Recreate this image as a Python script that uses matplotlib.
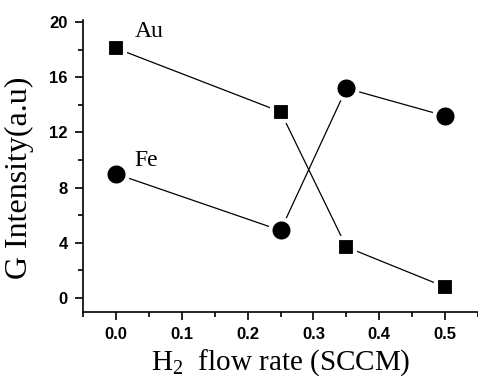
import matplotlib
matplotlib.use("Agg")
import matplotlib.pyplot as plt
from matplotlib.ticker import MultipleLocator

plt.rcParams['mathtext.fontset'] = 'custom'
plt.rcParams['mathtext.rm'] = 'Liberation Serif'
plt.rcParams['mathtext.it'] = 'Liberation Serif:italic'
plt.rcParams['mathtext.bf'] = 'Liberation Serif:bold'

flow = [0.0, 0.25, 0.35, 0.5]
au = [18.1, 13.5, 3.7, 0.8]
fe = [9.0, 4.9, 15.2, 13.2]
xticks = [0.0, 0.1, 0.2, 0.3, 0.4, 0.5]
yticks = [0, 4, 8, 12, 16, 20]

fig = plt.figure(figsize=(4.78, 3.85), dpi=100)
ax = fig.add_axes([0.174, 0.19, 0.826, 0.758])

ax.plot(flow, au, color='black', lw=0.9, marker='s', ms=13.5, mfc='black',
        mec='white', mew=3, zorder=3)
ax.plot(flow, fe, color='black', lw=0.9, marker='o', ms=16, mfc='black',
        mec='white', mew=3, zorder=3)

ax.set_xlim(-0.05, 0.55)
ax.set_ylim(-1, 20.15)
ax.set_xticks(xticks)
ax.set_yticks(yticks)
ax.set_xticklabels([f"{v:.1f}" for v in xticks])
ax.set_yticklabels([str(v) for v in yticks])
ax.xaxis.set_minor_locator(MultipleLocator(0.05))
ax.yaxis.set_minor_locator(MultipleLocator(2))
for s in ['top', 'right']:
    ax.spines[s].set_visible(False)
for s in ['left', 'bottom']:
    ax.spines[s].set_linewidth(1.2)
ax.tick_params(which='major', direction='out', length=6, width=1.2, pad=5)
ax.tick_params(which='minor', direction='out', length=3.5, width=1.2)
for lab in ax.get_xticklabels() + ax.get_yticklabels():
    lab.set_fontfamily('Liberation Sans')
    lab.set_fontweight('bold')
    lab.set_fontsize(12)

ax.set_xlabel("H$_2$  flow rate (SCCM)", fontfamily='Liberation Serif', fontsize=21, labelpad=4)
ax.set_ylabel("G Intensity(a.u)", fontfamily='Liberation Serif', fontsize=23, labelpad=4)
ax.yaxis.set_label_coords(-0.125, 0.46)

ax.text(0.028, 18.9, "Au", fontfamily='Liberation Serif', fontsize=17)
ax.text(0.028, 9.6, "Fe", fontfamily='Liberation Serif', fontsize=17)

fig.savefig("out.png", dpi=100)
